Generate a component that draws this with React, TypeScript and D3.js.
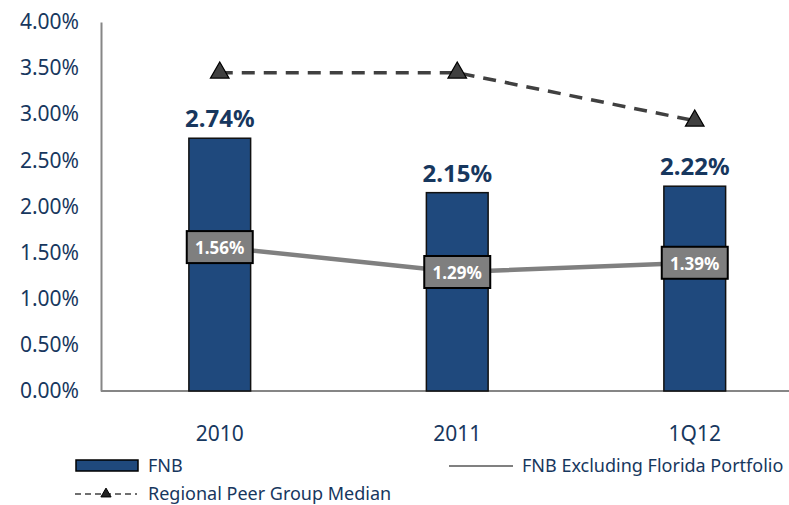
import React, { useRef, useEffect } from 'react'
import { select, scaleBand, scaleLinear, axisLeft, line, symbol, symbolTriangle } from 'd3'

const categories = ['2010', '2011', '1Q12']
const fnbValues = [2.74, 2.15, 2.22]
const exFloridaValues = [1.56, 1.29, 1.39]
const peerMedianValues = [3.45, 3.45, 2.93]
const yTicks = [0, 0.5, 1, 1.5, 2, 2.5, 3, 3.5, 4]

const seriesNames = ['FNB', 'FNB Excluding Florida Portfolio', 'Regional Peer Group Median']

const navy = '#17375E'
const barFill = '#1F497D'
const font = '"Noto Sans", sans-serif'

const App = () => {
    const svgRef = useRef(null)

    useEffect(() => {
        const svg = select(svgRef.current)
        svg.selectAll('*').remove()

        const margin = { top: 22, left: 101, bottom: 391 }
        const step = 237.5

        const xScale = scaleBand()
            .domain(categories)
            .range([margin.left, margin.left + step * categories.length])
            .paddingInner(0.74)
            .paddingOuter(0.37)

        const yScale = scaleLinear()
            .domain([0, 4])
            .range([margin.bottom, margin.top])

        const cx = (d) => xScale(d) + xScale.bandwidth() / 2

        // y axis
        const yAxis = axisLeft(yScale)
            .tickValues(yTicks)
            .tickSize(0)
            .tickPadding(22)
            .tickFormat(d => d.toFixed(2) + '%')

        const yg = svg.append('g')
            .attr('transform', `translate(${margin.left},0)`)
            .call(yAxis)
        yg.select('.domain').attr('stroke', '#868686').attr('stroke-width', 2)
        yg.selectAll('text')
            .attr('fill', navy)
            .style('font-family', font)
            .style('font-size', '21px')

        // x axis line
        svg.append('line')
            .attr('x1', margin.left)
            .attr('x2', 789)
            .attr('y1', yScale(0))
            .attr('y2', yScale(0))
            .attr('stroke', '#868686')
            .attr('stroke-width', 2)

        svg.selectAll('.xlabel')
            .data(categories)
            .join('text')
            .attr('class', 'xlabel')
            .attr('x', cx)
            .attr('y', 441)
            .attr('text-anchor', 'middle')
            .attr('fill', navy)
            .style('font-family', font)
            .style('font-size', '21px')
            .text(d => d)

        // bars
        svg.selectAll('.bar')
            .data(fnbValues)
            .join('rect')
            .attr('class', 'bar')
            .attr('x', (d, i) => xScale(categories[i]))
            .attr('y', d => yScale(d))
            .attr('width', xScale.bandwidth())
            .attr('height', d => yScale(0) - yScale(d))
            .attr('fill', barFill)
            .attr('stroke', '#111')
            .attr('stroke-width', 1.5)

        svg.selectAll('.barlabel')
            .data(fnbValues)
            .join('text')
            .attr('class', 'barlabel')
            .attr('x', (d, i) => cx(categories[i]))
            .attr('y', d => yScale(d) - 11)
            .attr('text-anchor', 'middle')
            .attr('fill', navy)
            .style('font-family', font)
            .style('font-weight', 'bold')
            .style('font-size', '24px')
            .text(d => d.toFixed(2) + '%')

        // peer median dashed line
        const peerLine = line()
            .x((d, i) => cx(categories[i]))
            .y(d => yScale(d))

        svg.append('path')
            .datum(peerMedianValues)
            .attr('d', peerLine)
            .attr('fill', 'none')
            .attr('stroke', '#404040')
            .attr('stroke-width', 3.5)
            .attr('stroke-dasharray', '13,9')

        const tri = symbol().type(symbolTriangle).size(150)
        svg.selectAll('.tri')
            .data(peerMedianValues)
            .join('path')
            .attr('class', 'tri')
            .attr('d', tri)
            .attr('transform', (d, i) => `translate(${cx(categories[i])},${yScale(d)})`)
            .attr('fill', '#404040')
            .attr('stroke', '#000')
            .attr('stroke-width', 1.2)

        // ex-Florida line
        svg.append('path')
            .datum(exFloridaValues)
            .attr('d', peerLine)
            .attr('fill', 'none')
            .attr('stroke', '#808080')
            .attr('stroke-width', 4.5)

        const boxes = svg.selectAll('.box')
            .data(exFloridaValues)
            .join('g')
            .attr('class', 'box')
            .attr('transform', (d, i) => `translate(${cx(categories[i])},${yScale(d)})`)

        boxes.append('rect')
            .attr('x', -33)
            .attr('y', -16)
            .attr('width', 66)
            .attr('height', 32)
            .attr('fill', '#7F7F7F')
            .attr('stroke', '#000')
            .attr('stroke-width', 2)

        boxes.append('text')
            .attr('y', 7)
            .attr('text-anchor', 'middle')
            .attr('fill', '#fff')
            .style('font-family', font)
            .style('font-weight', 'bold')
            .style('font-size', '17px')
            .text(d => d.toFixed(2) + '%')

        // legend
        const lg = svg.append('g')
        lg.append('rect')
            .attr('x', 76).attr('y', 460).attr('width', 62).attr('height', 11)
            .attr('fill', barFill).attr('stroke', '#000').attr('stroke-width', 1.5)
        lg.append('text')
            .attr('x', 148).attr('y', 472)
            .attr('fill', navy).style('font-family', font).style('font-size', '18px')
            .text(seriesNames[0])

        lg.append('line')
            .attr('x1', 449).attr('x2', 513).attr('y1', 466).attr('y2', 466)
            .attr('stroke', '#808080').attr('stroke-width', 2)
        lg.append('text')
            .attr('x', 522).attr('y', 472)
            .attr('fill', navy).style('font-family', font).style('font-size', '18px')
            .text(seriesNames[1])

        lg.append('line')
            .attr('x1', 75).attr('x2', 137).attr('y1', 494).attr('y2', 494)
            .attr('stroke', '#404040').attr('stroke-width', 1.5)
            .attr('stroke-dasharray', '6,4')
        lg.append('path')
            .attr('d', symbol().type(symbolTriangle).size(45))
            .attr('transform', 'translate(106,494)')
            .attr('fill', '#222').attr('stroke', '#000')
        lg.append('text')
            .attr('x', 148).attr('y', 500)
            .attr('fill', navy).style('font-family', font).style('font-size', '18px')
            .text(seriesNames[2])
    }, [])

    return (
        <svg ref={svgRef} width={789} height={505}
            style={{ position: 'absolute', left: 0, top: 0, background: '#fff' }} />
    )
}

export default App
